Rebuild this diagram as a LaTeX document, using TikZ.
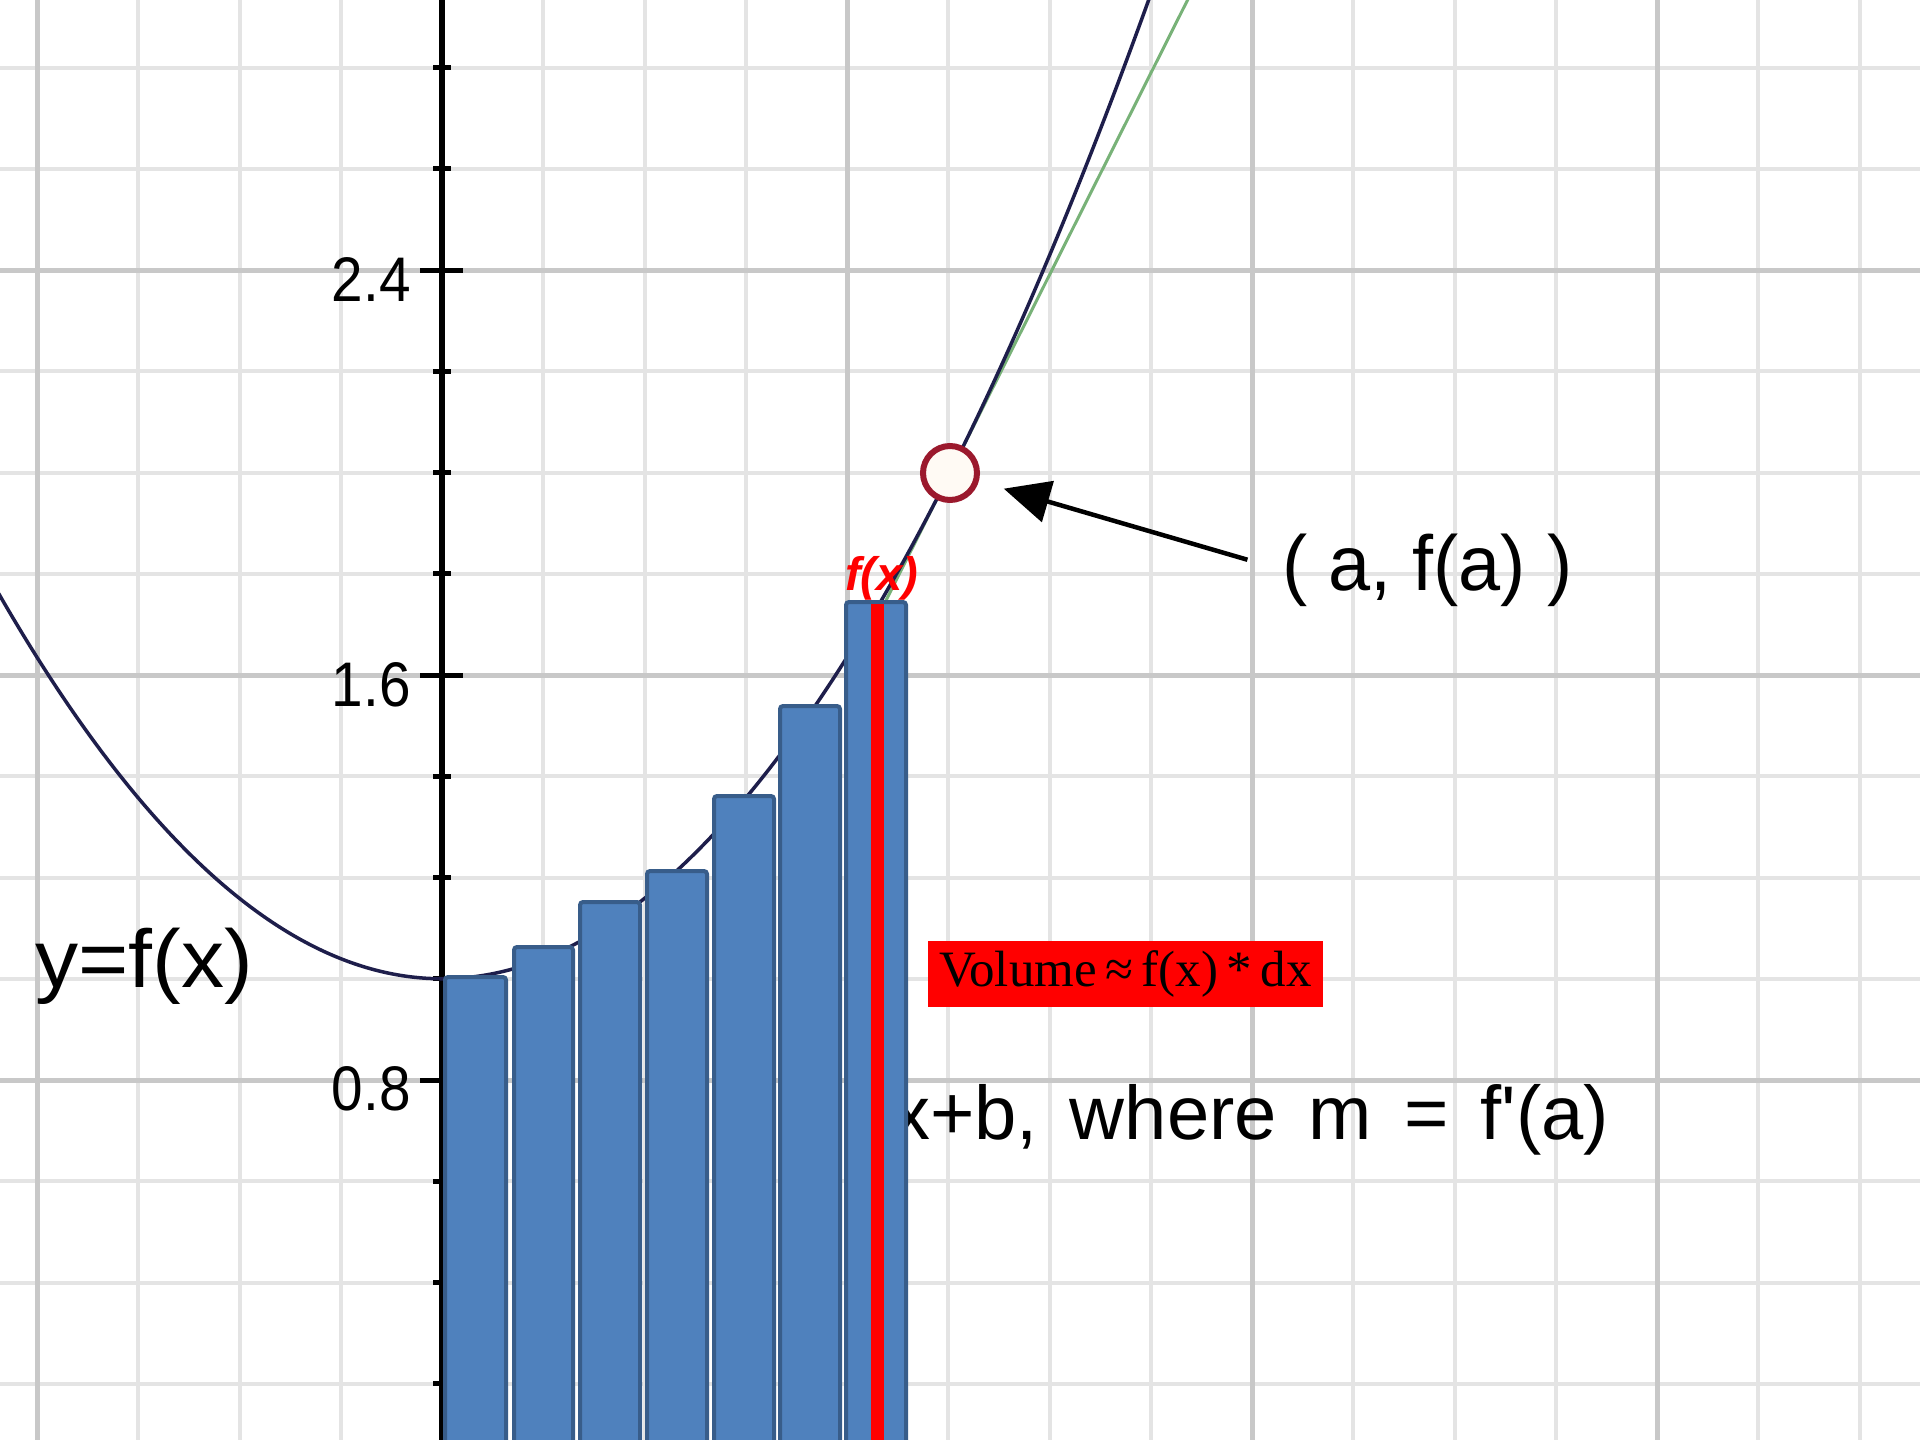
\documentclass[tikz,border=0pt]{standalone}
\usepackage{fontspec}
\usepackage{graphicx}
\setmainfont{Liberation Sans}
\newfontfamily\serifvol{Liberation Serif}
\usetikzlibrary{arrows.meta}
\definecolor{gridminor}{RGB}{228,228,228}
\definecolor{gridmajor}{RGB}{200,200,200}
\definecolor{barfill}{RGB}{79,129,189}
\definecolor{barline}{RGB}{56,93,138}
\definecolor{fcol}{RGB}{30,30,75}
\definecolor{tcol}{RGB}{120,178,120}
\definecolor{ringcol}{RGB}{155,25,45}
\definecolor{ringfill}{RGB}{255,250,244}
\begin{document}
\begin{tikzpicture}[x=1pt,y=-1pt,
  minorline/.style={draw=gridminor, line width=4pt},
  majorline/.style={draw=gridmajor, line width=5pt},
  axisline/.style={draw=black, line width=6pt},
  ticksmall/.style={draw=black, line width=5pt},
  ticklabel/.style={anchor=base east, inner sep=0pt, font=\fontsize{63pt}{63pt}\selectfont},
  fcurve/.style={draw=fcol, line width=3.5pt},
  tangent/.style={draw=tcol, line width=3pt},
  ptring/.style={circle, draw=ringcol, line width=6pt, fill=ringfill, minimum size=54pt, inner sep=0pt},
  ptr/.style={draw=black, line width=4.5pt, -{Triangle[length=46pt,width=42pt]}},
  barbox/.style={draw=barline, fill=barfill, line width=4pt, rounded corners=3pt},
  plaintext/.style={anchor=base west, inner sep=0pt}]
\useasboundingbox (0,0) rectangle (1920,1440);
\fill[white] (0,0) rectangle (1920,1440);
\begin{scope}
\clip (0,0) rectangle (1920,1440);
% grid
\foreach \k in {-4,...,14} {\draw[minorline] ({442+101.25*\k},0) -- ({442+101.25*\k},1440);}
\foreach \k in {-10,...,3} {\draw[minorline] (0,{1080+101.25*\k}) -- (1920,{1080+101.25*\k});}
\foreach \k in {-1,0,1,2,3} {\draw[majorline] ({442+405*\k},0) -- ({442+405*\k},1440);}
\foreach \k in {-2,-1,0} {\draw[majorline] (0,{1080+405*\k}) -- (1920,{1080+405*\k});}
% axis and ticks
\draw[axisline] (442,0) -- (442,1440);
\foreach \k in {-10,-9,-7,-6,-5,-3,-2,-1,1,2,3} {\draw[ticksmall] (433,{1080+101.25*\k}) -- (451,{1080+101.25*\k});}
\foreach \k in {-2,-1,0} {\draw[ticksmall] (420,{1080+405*\k}) -- (463,{1080+405*\k});}
\node[ticklabel] (l24) at (411,301) {\scalebox{0.9}[1]{2.4}};
\node[ticklabel] (l16) at (411,706) {\scalebox{0.9}[1]{1.6}};
\node[ticklabel] (l08) at (411,1110) {\scalebox{0.9}[1]{0.8}};
% curves
\draw[tangent] (1192.6,-10) -- (866.1,640);
\draw[fcurve] plot[domain=-4:1154, samples=160, smooth] (\x,{978.75-19.6*((\x-442)/100)*((\x-442)/100)});
% point and label
\node[ptring] (pt) at (950,473) {};
\node[plaintext, font=\fontsize{78pt}{78pt}\selectfont] (lab) at (1282,590) {\scalebox{0.97}[1]{( a, f(a) )}};
\draw[ptr, shorten <=36pt, shorten >=26pt] (lab.west) -- (pt);
\node[plaintext, font=\fontsize{82pt}{82pt}\selectfont] (yfx) at (35,987) {\scalebox{1.05}[1]{y=f(x)}};
\node[plaintext, font=\fontsize{76pt}{76pt}\selectfont] (eq) at (892,1139) {\spaceskip=32pt x+b, where m = f\textquotesingle(a)};
% bars
\foreach \l/\r/\t in {443/508/975, 512/575/945, 578/642/900, 645/709/869, 712/776/794, 778/842/704, 844/908/600}
  {\draw[barbox] ({\l+2},{\t+2}) rectangle ({\r-2},1470);}
\draw[red, line width=13pt] (877,604) -- (877,1450);
\node[plaintext, text=red, font=\fontsize{47pt}{47pt}\selectfont\bfseries\itshape] (fx) at (845,590) {f(x)};
\node[fill=red, minimum width=395pt, minimum height=66pt, inner sep=0pt, font=\serifvol\fontsize{51pt}{51pt}\selectfont] (vol) at (1125.5,974) {Volume\,≈\,f(x)\,*\,dx};
\end{scope}
\end{tikzpicture}
\end{document}
